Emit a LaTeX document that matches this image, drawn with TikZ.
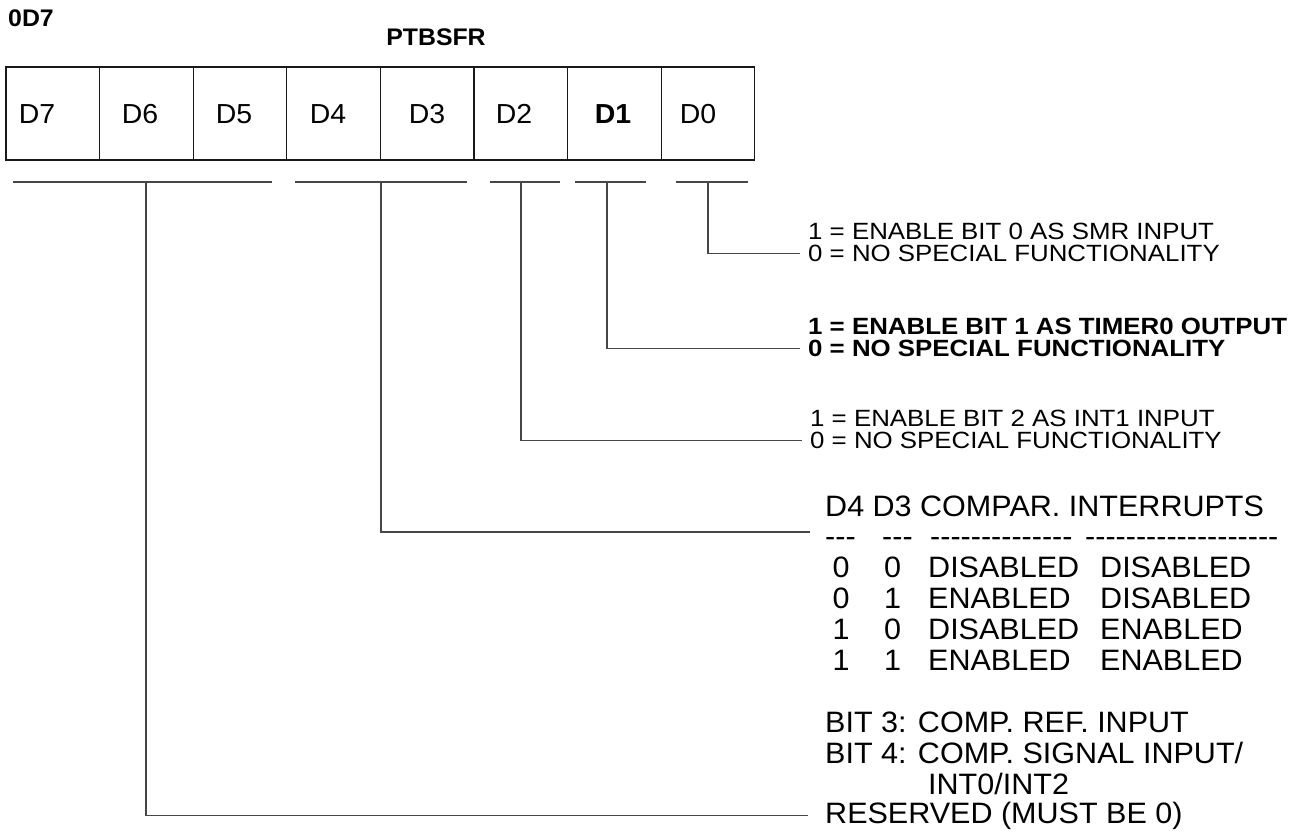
\documentclass[tikz,border=0pt]{standalone}
\usepackage{fontspec}
\setmainfont{Liberation Sans}
\newfontfamily\regfont{Liberation Sans}[FakeStretch=1.035]
\newfontfamily\sidefont{Liberation Sans}[FakeStretch=1.1]
\usetikzlibrary{positioning,calc}
\definecolor{ink}{RGB}{25,25,25}
\definecolor{wire}{RGB}{70,70,70}
\newcommand\dashrun[1]{\foreach\k in {1,...,#1}{-\kern0pt}}

\begin{document}
\begin{tikzpicture}[x=1pt,y=-1pt,
  cellbox/.style={draw=ink,line width=1.3pt,minimum width=93.6pt,minimum height=93pt,inner sep=0pt},
  cellfont/.style={anchor=base,inner sep=0pt,font=\regfont\fontsize{27.5}{30}\selectfont},
  headtxt/.style={inner sep=0pt,font=\regfont\bfseries\fontsize{24}{26}\selectfont},
  sidetxt/.style={anchor=base west,inner xsep=8pt,inner ysep=0pt,font=\sidefont\fontsize{23.5}{22}\selectfont},
  sidebold/.style={sidetxt,font=\sidefont\bfseries\fontsize{23.5}{22}\selectfont},
  bigtxt/.style={anchor=base west,inner sep=0pt,font=\regfont\fontsize{29.5}{31}\selectfont},
  wirepath/.style={draw=wire,line width=1.3pt}]
\useasboundingbox (0,0) rectangle (1302,834);
\node[headtxt,anchor=west] (addr) at (8,18) {0D7};
\node[headtxt] (regname) at (436,37) {PTBSFR};
% register cells
\foreach \i/\lx in {7/37,6/140,5/234,4/328,3/427,2/514,1/613,0/698} {
  \pgfmathsetmacro\cx{52.8+93.6*(7-\i)}
  \node[cellbox] (cell\i) at (\cx,113.5) {};
  \node[cellfont] (lab\i) at (\lx,123.4) {\ifnum\i=1 \textbf{D\i}\else D\i\fi};}
% field brackets
\foreach \n/\a/\b/\s in {b0/676/748/708,b1/575/646/607,b2/490/560/521,b3/295/467/381,b4/13/272/146} {
  \draw[wirepath] (\a,182) -- (\b,182);
  \coordinate (\n) at (\s,182);}
\node[sidetxt] (s0a) at (800,239.4) {1 = ENABLE BIT 0 AS SMR INPUT};
\node[sidetxt] (s0b) at (800,261.4) {0 = NO SPECIAL FUNCTIONALITY};
\node[sidebold] (s1a) at (800,334.4) {1 = ENABLE BIT 1 AS TIMER0 OUTPUT};
\node[sidebold] (s1b) at (800,356.4) {0 = NO SPECIAL FUNCTIONALITY};
\node[sidetxt] (s2a) at (802,426.4) {1 = ENABLE BIT 2 AS INT1 INPUT};
\node[sidetxt] (s2b) at (802,448.4) {0 = NO SPECIAL FUNCTIONALITY};
% comparator table
\node[bigtxt] (hdr) at (825,516) {D4 D3 COMPAR. INTERRUPTS};
\foreach \n/\dx/\k in {1/0/3,2/57/3,3/105/14,4/260/19}
  \node[bigtxt] (dash\n) at (825+\dx,546) {\dashrun{\k}};
\foreach \r/\y/\p/\q/\cmp/\irq in {1/577.5/0/0/DISABLED/DISABLED,2/608.5/0/1/ENABLED/DISABLED,3/639/1/0/DISABLED/ENABLED,4/670/1/1/ENABLED/ENABLED} {
  \node[bigtxt,anchor=base] (d4r\r) at (841,\y) {\p};
  \node[bigtxt,anchor=base] (d3r\r) at (892.5,\y) {\q};
  \node[bigtxt] (cmp\r) at (928,\y) {\cmp};
  \node[bigtxt] (irq\r) at (1100,\y) {\irq};}
\node[bigtxt] (bit3) at (825,732) {BIT 3: COMP. REF. INPUT};
\node[bigtxt] (bit4) at (825,763) {BIT 4: COMP. SIGNAL INPUT/};
\node[bigtxt] (bit4b) at (928,794) {INT0/INT2};
\node[bigtxt,inner xsep=17pt] (res) at (808,823) {RESERVED (MUST BE 0)};
\coordinate (e3) at (810,532);
% connectors
\draw[wirepath] (b0) |- (s0b.west);
\draw[wirepath] (b1) |- (s1b.west);
\draw[wirepath] (b2) |- (s2b.west);
\draw[wirepath] (b3) |- (e3);
\draw[wirepath] (b4) |- (res.west);
\end{tikzpicture}
\end{document}
